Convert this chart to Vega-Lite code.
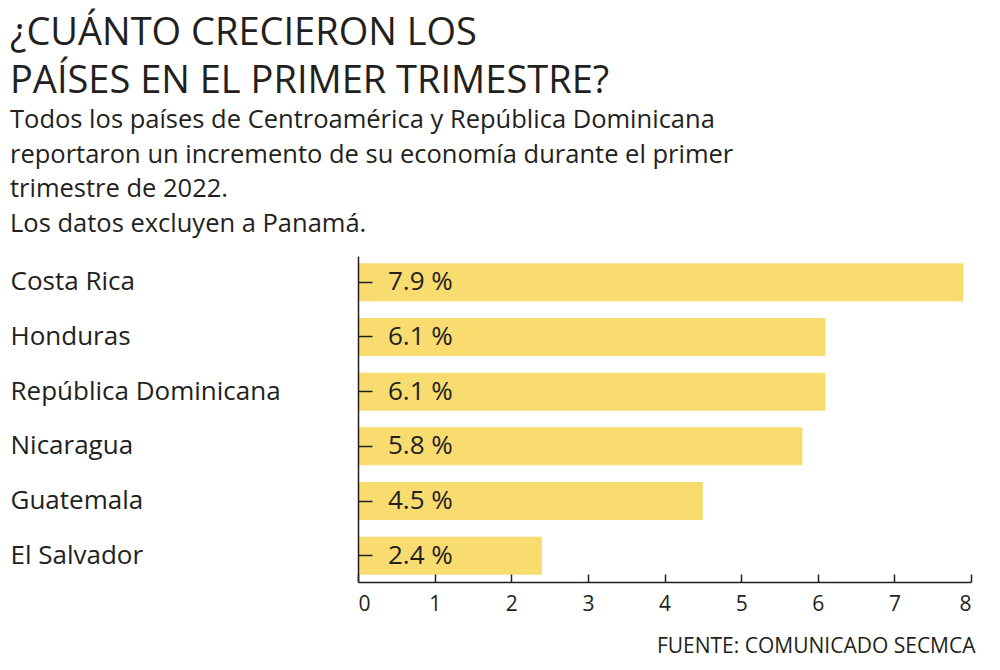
{
  "$schema": "https://vega.github.io/schema/vega-lite/v6.json",
  "width": 613,
  "height": 326,
  "padding": {"left": 10, "top": 15, "right": 20, "bottom": 10},
  "background": "white",
  "config": {"view": {"stroke": null}},
  "title": {
    "text": ["¿CUÁNTO CRECIERON LOS", "PAÍSES EN EL PRIMER TRIMESTRE?"],
    "subtitle": ["Todos los países de Centroamérica y República Dominicana", "reportaron un incremento de su economía durante el primer", "trimestre de 2022.", "Los datos excluyen a Panamá."],
    "anchor": "start",
    "frame": "bounds",
    "font": "Open Sans",
    "fontSize": 38,
    "fontWeight": "normal",
    "color": "#231f20",
    "lineHeight": 48,
    "subtitleFont": "Open Sans",
    "subtitleFontSize": 25.5,
    "subtitleColor": "#231f20",
    "subtitleLineHeight": 34.5,
    "subtitlePadding": 7,
    "offset": 19
  },
  "data": {
    "values": [
      {"country": "Costa Rica", "value": 7.9},
      {"country": "Honduras", "value": 6.1},
      {"country": "República Dominicana", "value": 6.1},
      {"country": "Nicaragua", "value": 5.8},
      {"country": "Guatemala", "value": 4.5},
      {"country": "El Salvador", "value": 2.4}
    ]
  },
  "transform": [{"calculate": "format(datum.value, '.1f') + ' %'", "as": "label"}],
  "encoding": {
    "y": {
      "field": "country",
      "type": "nominal",
      "sort": null,
      "scale": {"paddingInner": 0.305, "paddingOuter": 0.133},
      "axis": {
        "title": null,
        "zindex": 1,
        "domainColor": "#231f20",
        "domainWidth": 1.5,
        "tickColor": "#231f20",
        "tickWidth": 1.5,
        "tickSize": -14,
        "labelAlign": "left",
        "labelPadding": 362,
        "labelFont": "Open Sans",
        "labelFontSize": 26,
        "labelColor": "#231f20",
        "labelLimit": 0
      }
    }
  },
  "layer": [
    {
      "mark": {"type": "bar", "color": "#F9DC70"},
      "encoding": {
        "x": {
          "field": "value",
          "type": "quantitative",
          "scale": {"domain": [0, 8]},
          "axis": {
            "title": "FUENTE: COMUNICADO SECMCA",
            "titleX": 617,
            "titleAlign": "right",
            "titleFont": "Open Sans",
            "titleFontSize": 21,
            "titleFontWeight": "normal",
            "titleColor": "#231f20",
            "titlePadding": 21,
            "grid": false,
            "zindex": 1,
            "tickCount": 8,
            "domainColor": "#231f20",
            "domainWidth": 1.5,
            "tickColor": "#231f20",
            "tickWidth": 1.5,
            "tickSize": -8,
            "labelPadding": 19,
            "labelFont": "Open Sans",
            "labelFontSize": 21,
            "labelColor": "#231f20"
          }
        }
      }
    },
    {
      "mark": {"type": "text", "align": "left", "baseline": "middle", "dx": 30, "font": "Open Sans", "fontSize": 26, "color": "#231f20"},
      "encoding": {
        "x": {"datum": 0, "type": "quantitative"},
        "text": {"field": "label"}
      }
    }
  ]
}
